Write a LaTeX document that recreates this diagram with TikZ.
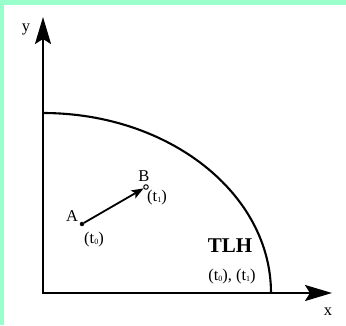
\documentclass[tikz,border=0pt]{standalone}
\usepackage{fontspec}
\setmainfont{Liberation Serif}
\usetikzlibrary{arrows.meta,positioning}
\definecolor{mint}{RGB}{153,255,204}
\newcommand{\tsub}[1]{(t\raisebox{-0.5pt}{\fontsize{8}{8}\selectfont#1})}
\tikzset{
  axarr/.style={{Stealth[length=27pt,width=16pt,inset=5pt]}-{Stealth[length=27pt,width=16pt,inset=5pt]}, line width=2.2pt},
  bnd/.style={line width=2.1pt},
  movarr/.style={-{Stealth[length=12pt,width=9pt,inset=2.5pt]}, line width=1.8pt},
  ptA/.style={circle, draw, fill=black, inner sep=0pt, minimum size=4pt},
  ptB/.style={circle, draw, fill=white, inner sep=0pt, minimum size=4.5pt, line width=1pt},
  lbl/.style={font=\fontsize{16.5}{18}\selectfont, inner sep=0pt},
  big/.style={font=\fontsize{21}{23}\selectfont\bfseries, inner sep=0pt},
}

\begin{document}
\begin{tikzpicture}[x=1pt, y=-1pt]
  \fill[mint] (0,0) rectangle (346,325);
  \fill[white] (3.5,5) rectangle (346,325);
  \useasboundingbox (0,0) rectangle (346,325);
  \coordinate (O) at (43,293);
  \coordinate (ytip) at (43,17);
  \coordinate (xtip) at (332,293);
  \coordinate (top) at (43,113);
  \draw[axarr] (ytip) -- (O) -- (xtip);
  \draw[bnd] (top) arc[start angle=90, end angle=0, x radius=228pt, y radius=180pt];
  \node[lbl] (ylab) at (26,29) {y};
  \node[lbl] (xlab) at (328,312) {x};
  \node[ptA] (A) at (82,224) {};
  \node[ptB] (B) at (146,187) {};
  \draw[movarr] (A) -- (B);
  \node[lbl] (Alab) at (72,216) {A};
  \node[lbl] (At) at (94,240) {\tsub{0}};
  \node[lbl] (Blab) at (144,176) {B};
  \node[lbl] (Bt) at (157,198) {\tsub{1}};
  \node[big] (tlh) at (230,246) {TLH};
  \node[lbl] (tlht) at (232,277) {\tsub{0}, \tsub{1}};
\end{tikzpicture}
\end{document}
